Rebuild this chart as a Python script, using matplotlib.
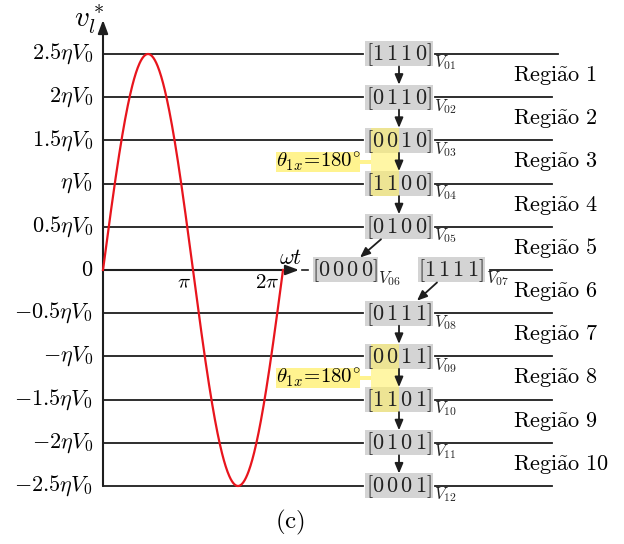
import matplotlib
matplotlib.use("Agg")
import matplotlib.pyplot as plt
import numpy as np
from matplotlib.patches import Rectangle

plt.rcParams["mathtext.fontset"] = "cm"
plt.rcParams["font.family"] = "serif"

# ------------------------------------------------------------------
# data
# ------------------------------------------------------------------
levels = [2.5, 2.0, 1.5, 1.0, 0.5, 0.0, -0.5, -1.0, -1.5, -2.0, -2.5]
level_labels = [r"$2.5\eta V_0$", r"$2\eta V_0$", r"$1.5\eta V_0$", r"$\eta V_0$",
                r"$0.5\eta V_0$", r"$0$", r"$-0.5\eta V_0$", r"$-\eta V_0$",
                r"$-1.5\eta V_0$", r"$-2\eta V_0$", r"$-2.5\eta V_0$"]
states = ["1110", "0110", "0010", "1100", "0100", "0000",
          "1111", "0111", "0011", "1101", "0101", "0001"]
state_levels = [2.5, 2.0, 1.5, 1.0, 0.5, 0.0, 0.0, -0.5, -1.0, -1.5, -2.0, -2.5]
vec_names = [f"V_{{{i:02d}}}" for i in range(1, 13)]
regions = [f"Regi\\tilde{{a}}o\\ {i}" for i in range(1, 11)]
amplitude = 2.5
theta_label = r"$\theta_{1x}\!=\!180^{\circ}$"
# pairs of states whose first two switches flip together
theta_pairs = [(2, 3), (8, 9)]

# ------------------------------------------------------------------
# pixel <-> data helpers (figure is 624x544 px)
# ------------------------------------------------------------------
W, H = 624, 544
X0, Y0 = 103.0, 270.0          # origin in pixels
SX = 180.0 / (2 * np.pi)       # px per radian
SY = 86.4                      # px per eta*V0


def dx(p):
    return (p - X0) / SX


def dy(p):
    return (Y0 - p) / SY


def px(y):
    return Y0 - y * SY


fig = plt.figure(figsize=(W / 100, H / 100), dpi=100)
ax = fig.add_axes([0, 0, 1, 1])
ax.set_xlim(dx(0), dx(W))
ax.set_ylim(dy(H), dy(0))
ax.axis("off")

LINE = "#1e1e1e"
GRAY = "#d4d4d4"
YELLOW = "#fff06a"
TXT = "#222222"

# box columns (pixel centres)
col_main = 399.0
box_cx = [col_main] * 5 + [345.0, 451.0] + [col_main] * 5
box_w = [68.0] * 5 + [65.0, 67.0] + [68.0] * 5
BOX_H = 25.0

# ------------------------------------------------------------------
# horizontal level lines
# ------------------------------------------------------------------
for lv in levels:
    if lv == 0:
        ax.annotate("", xy=(dx(299), 0), xytext=(0, 0),
                    arrowprops=dict(arrowstyle="-|>,head_length=0.8,head_width=0.3",
                                    color=LINE, lw=1.5, shrinkA=0, shrinkB=0))
        ax.plot([dx(302), dx(308)], [0, 0], color=LINE, lw=1.2)
        ax.plot([dx(490), dx(552)], [0, 0], color=LINE, lw=1.3)
        continue
    i = state_levels.index(lv)
    left = box_cx[i] - box_w[i] / 2
    right_end = 558 if lv == levels[0] else 552
    ax.plot([0, dx(left - 2)], [lv, lv], color=LINE, lw=1.3)
    ax.plot([dx(left + box_w[i] + 2), dx(right_end)], [lv, lv], color=LINE, lw=1.3)

# y axis with arrow
ax.annotate("", xy=(0, dy(20)), xytext=(0, levels[-1]),
            arrowprops=dict(arrowstyle="-|>,head_length=0.8,head_width=0.3",
                            color=LINE, lw=1.5, shrinkA=0, shrinkB=0))
ax.text(dx(89), dy(20), r"$v_l^*$", fontsize=21, ha="center", va="center")
ax.text(dx(291), dy(258), r"$\omega t$", fontsize=16, ha="center", va="center")
ax.text(dx(184), dy(283), r"$\pi$", fontsize=15, ha="center", va="center")
ax.text(dx(267), dy(283), r"$2\pi$", fontsize=15, ha="center", va="center")

for lv, lab in zip(levels, level_labels):
    ax.text(dx(93), lv, lab, fontsize=16, ha="right", va="center")

# ------------------------------------------------------------------
# sine reference
# ------------------------------------------------------------------
wt = np.linspace(0, 2 * np.pi, 400)
ax.plot(wt, amplitude * np.sin(wt), color="#e8151d", lw=1.6, zorder=5)

# ------------------------------------------------------------------
# state boxes
# ------------------------------------------------------------------
for cx, w, lv, st, vn in zip(box_cx, box_w, state_levels, states, vec_names):
    y_top = px(lv) - BOX_H / 2
    ax.add_patch(Rectangle((dx(cx - w / 2), dy(y_top + BOX_H)), w / SX, BOX_H / SY,
                           facecolor=GRAY, edgecolor="none", zorder=2))
    ax.text(dx(cx), dy(px(lv) + 1), r"$[" + r"\,".join(st) + "]$", fontsize=16,
            ha="center", va="center", color=TXT, zorder=4)
    ax.text(dx(cx + w / 2 + 1), dy(px(lv) + 9), f"${vn}$", fontsize=12,
            ha="left", va="center", color=TXT, zorder=4)

# yellow highlights
for a, b in theta_pairs:
    top = px(state_levels[a]) - BOX_H / 2
    bot = px(state_levels[b]) + BOX_H / 2
    ax.add_patch(Rectangle((dx(371), dy(bot)), 28 / SX, (bot - top) / SY,
                           facecolor=YELLOW, alpha=0.6, edgecolor="none", zorder=3))
    mid = (px(state_levels[a]) + px(state_levels[b])) / 2
    ax.add_patch(Rectangle((dx(276), dy(mid + 10)), 84 / SX, 20 / SY,
                           facecolor=YELLOW, alpha=0.75, edgecolor="none", zorder=3))
    ax.add_patch(Rectangle((dx(360), dy(mid + 2)), 11 / SX, 4 / SY,
                           facecolor=YELLOW, alpha=0.75, edgecolor="none", zorder=3))
    ax.text(dx(318), dy(mid), theta_label, fontsize=15, ha="center", va="center",
            zorder=4)

# ------------------------------------------------------------------
# transition arrows
# ------------------------------------------------------------------
def arrow(x1, y1, x2, y2):
    ax.annotate("", xy=(dx(x2), dy(y2)), xytext=(dx(x1), dy(y1)),
                arrowprops=dict(arrowstyle="-|>,head_length=0.6,head_width=0.25",
                                color=LINE, lw=1.3, shrinkA=0, shrinkB=0),
                zorder=5)


for i in list(range(0, 4)) + list(range(7, 11)):
    arrow(col_main, px(state_levels[i]) + BOX_H / 2,
          col_main, px(state_levels[i + 1]) - BOX_H / 2)
arrow(381, px(state_levels[4]) + BOX_H / 2, 360, px(0) - BOX_H / 2)
arrow(437, px(0) + BOX_H / 2, 417, px(state_levels[7]) - BOX_H / 2)

# ------------------------------------------------------------------
# region labels
# ------------------------------------------------------------------
for k, reg in enumerate(regions):
    ym = (levels[k] + levels[k + 1]) / 2
    ax.text(dx(513), ym, f"$\\mathrm{{{reg}}}$", fontsize=16, ha="left", va="center")

ax.text(dx(290), dy(522), r"$\mathrm{(c)}$", fontsize=18, ha="center", va="center")

fig.savefig("out.png", dpi=100)
